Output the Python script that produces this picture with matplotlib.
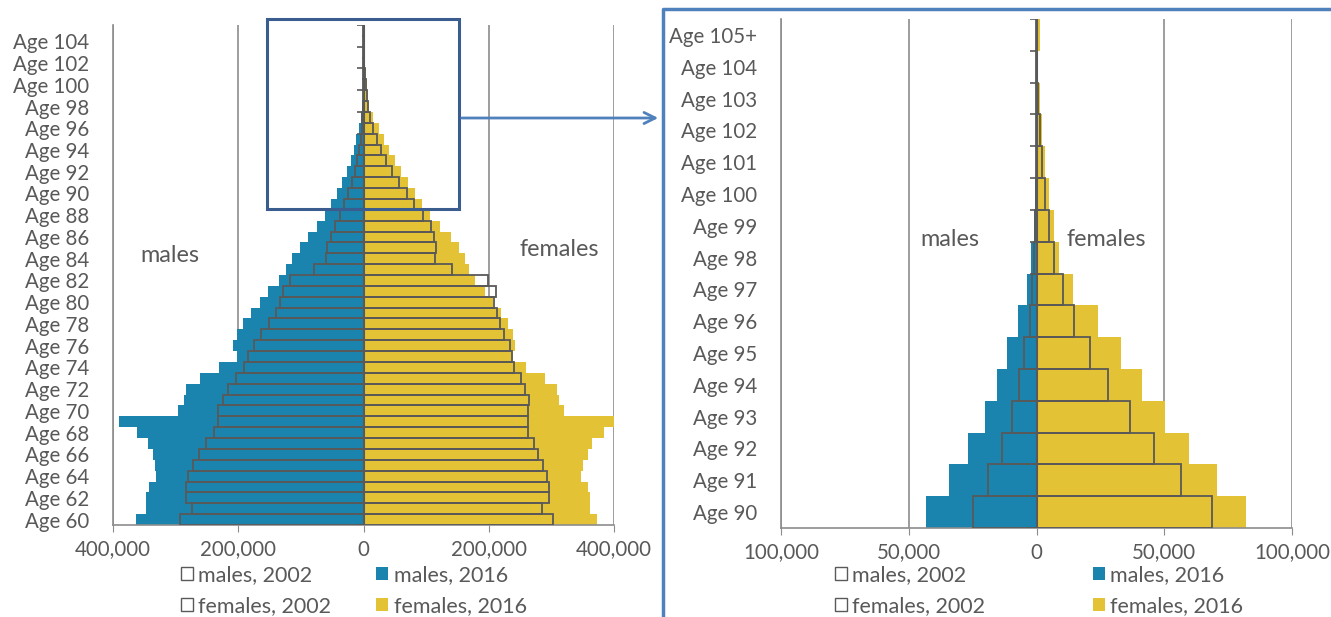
import numpy as np
import matplotlib.pyplot as plt
from matplotlib.patches import Patch, Rectangle, FancyArrowPatch
from matplotlib.lines import Line2D
from matplotlib.ticker import FuncFormatter

plt.rcParams['font.family'] = ['Lato', 'DejaVu Sans']

# ages 60 .. 105+
ages = list(range(60, 106))
age_labels = [f"Age {a}" for a in ages[:-1]] + ["Age 105+"]

males_2016 = [363000, 348000, 348000, 342000, 331000, 333000, 336000, 344000, 361000, 390000,
              297000, 286000, 284000, 261000, 230000, 202000, 209000, 202000, 193000, 180000,
              166000, 153000, 135000, 124000, 114000, 102000, 89000, 74000, 62000, 52000,
              43100, 34400, 27000, 20300, 15600, 11400, 7200, 3700, 2200, 900,
              400, 200, 100, 50, 30, 20]
males_2002 = [293000, 274000, 283000, 283000, 280000, 272000, 262000, 252000, 239000, 233000,
              232000, 225000, 216000, 204000, 191000, 185000, 175000, 163000, 151000, 140000,
              134000, 129000, 118000, 79000, 59500, 57500, 52000, 46000, 38000, 30500,
              25000, 19000, 13600, 9700, 7000, 4700, 2700, 1800, 1000, 500,
              250, 120, 60, 30, 15, 10]
females_2016 = [372600, 361500, 361500, 358000, 348000, 350000, 358000, 365000, 384000, 401500,
                320500, 311500, 309000, 290400, 259000, 238000, 242000, 238500, 230500, 219500,
                207000, 194000, 178500, 169000, 161500, 152000, 139000, 122700, 106700, 93300,
                82000, 70500, 59600, 50200, 41400, 33000, 24000, 14400, 9000, 6900,
                5000, 3500, 2200, 1200, 500, 1200]
females_2002 = [302000, 285000, 297000, 297000, 292600, 287000, 279000, 272000, 262000, 262000,
                262000, 264000, 258000, 250700, 239600, 237000, 233700, 224000, 218000, 212500,
                207800, 212000, 199000, 141500, 114600, 116300, 112000, 108300, 95000, 81000,
                68800, 56500, 46100, 36600, 28000, 21000, 14800, 10400, 7000, 4900,
                3200, 2200, 1300, 700, 250, 350]

BLUE = "#1A83AE"
YELLOW = "#E3C236"
EDGE = "#595959"
GRID = "#8C8C8C"
TXT = "#595959"
FS = 14.8      # axis labels
FS_LEG = 15.5  # legend
FS_SEX = 16.8  # males / females


def pyramid(ax, start, xmax, step, label_every, ypad):
    m16 = -np.array(males_2016[start:])
    m02 = -np.array(males_2002[start:])
    f16 = np.array(females_2016[start:])
    f02 = np.array(females_2002[start:])
    labels = age_labels[start:]
    y = np.arange(len(labels))

    ax.barh(y, m16, height=1.0, color=BLUE, zorder=2)
    ax.barh(y, f16, height=1.0, color=YELLOW, zorder=2)
    ax.barh(y, m02, height=1.0, facecolor="none", edgecolor=EDGE, lw=1.3, zorder=3)
    ax.barh(y, f02, height=1.0, facecolor="none", edgecolor=EDGE, lw=1.3, zorder=3)

    ax.set_xlim(-xmax, xmax)
    ax.set_ylim(-0.5, len(labels) - 0.5)
    ax.set_xticks(np.arange(-xmax, xmax + 1, step))
    ax.xaxis.set_major_formatter(FuncFormatter(lambda v, p: f"{abs(v):,.0f}"))
    ax.set_yticks(y[::label_every])
    ax.set_yticklabels(labels[::label_every])

    ax.set_axisbelow(True)
    ax.xaxis.grid(True, color=GRID, lw=1.2)
    for s in ["top", "right"]:
        ax.spines[s].set_visible(False)
    for s in ["left", "bottom"]:
        ax.spines[s].set_color(GRID)
        ax.spines[s].set_linewidth(1.2)
    ax.tick_params(axis="y", length=0, pad=ypad, labelsize=FS, labelcolor=TXT)
    ax.tick_params(axis="x", length=5, color=GRID, direction="out", pad=5.5,
                   labelsize=FS, labelcolor=TXT)

    # category axis drawn at zero
    ax.axvline(0, color=EDGE, lw=1.5, zorder=4)
    tick = 2 * xmax * 0.013
    ax.hlines(np.arange(-0.5, len(labels), label_every), -tick, 0,
              color=EDGE, lw=1.2, zorder=4)


fig = plt.figure(figsize=(13.31, 6.17), dpi=100)
W, H = 1331, 617

ax1 = fig.add_axes([113 / W, 1 - 525 / H, 501 / W, 500 / H])
pyramid(ax1, 0, 400000, 200000, 2, 17)
ax1.text(0.114, 0.54, "males", transform=ax1.transAxes, ha="center", va="center",
         fontsize=FS_SEX, color=TXT)
ax1.text(0.89, 0.55, "females", transform=ax1.transAxes, ha="center", va="center",
         fontsize=FS_SEX, color=TXT)

ax2 = fig.add_axes([781 / W, 1 - 528 / H, 511 / W, 509 / H])
pyramid(ax2, 30, 100000, 50000, 1, 17)
ax2.text(0.331, 0.566, "males", transform=ax2.transAxes, ha="center", va="center",
         fontsize=FS_SEX, color=TXT)
ax2.text(0.636, 0.566, "females", transform=ax2.transAxes, ha="center", va="center",
         fontsize=FS_SEX, color=TXT)

handles = [Patch(facecolor="white", edgecolor=EDGE, lw=1),
           Patch(facecolor="white", edgecolor=EDGE, lw=1),
           Patch(facecolor=BLUE), Patch(facecolor=YELLOW)]
names = ["males, 2002", "females, 2002", "males, 2016", "females, 2016"]
for x0, cs in [(181, 2.1), (835, 5.0)]:
    fig.legend(handles, names, ncol=2, loc="upper left",
               bbox_to_anchor=(x0 / W, 1 - 565 / H), frameon=False,
               fontsize=FS_LEG, labelcolor=TXT, borderpad=0, borderaxespad=0,
               handlelength=0.55, handleheight=0.55, handletextpad=0.25,
               labelspacing=0.5, columnspacing=cs)

# zoom box, arrow and frame
fig.add_artist(Rectangle((267 / W, 1 - 209 / H), 192 / W, 190 / H,
                         transform=fig.transFigure, fill=False,
                         ec="#3B5C8E", lw=2.2, zorder=5))
fig.add_artist(FancyArrowPatch((459 / W, 1 - 118 / H), (661 / W, 1 - 118 / H),
                               transform=fig.transFigure, arrowstyle="->",
                               mutation_scale=20, color="#4F81BD", lw=2, zorder=5))
fig.add_artist(Line2D([663 / W, 663 / W, 1.0], [0.0, 1 - 9 / H, 1 - 9 / H],
                      transform=fig.transFigure, color="#4F81BD", lw=2.5, zorder=5))

fig.savefig("out.png", dpi=100)
